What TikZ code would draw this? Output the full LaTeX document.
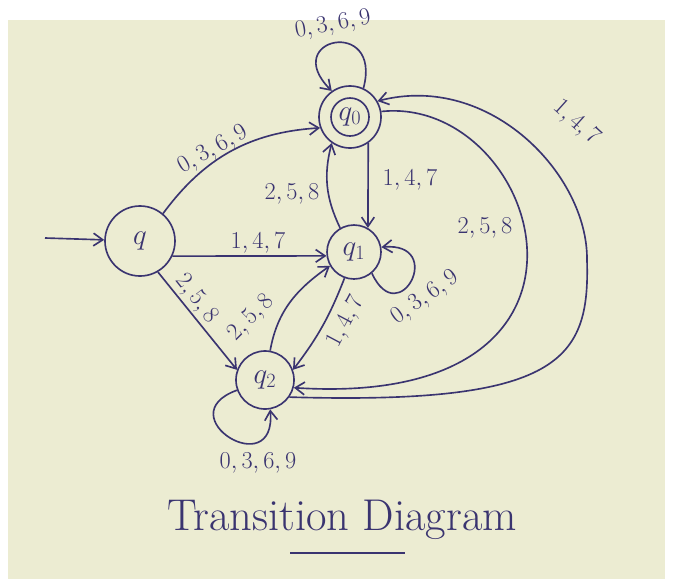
\documentclass[tikz,border=0pt]{standalone}
\usepackage{tikz}
\usetikzlibrary{positioning,arrows.meta,calc}
\definecolor{ink}{RGB}{58,52,112}
\definecolor{paper}{RGB}{236,236,210}

\begin{document}
\begin{tikzpicture}[x=0.03cm,y=-0.03cm,
  >={Straight Barb[length=2.8mm,width=3.8mm]},
  state/.style={circle,draw=ink,line width=1.4pt,inner sep=0pt,text=ink,font=\fontsize{24}{28}\selectfont},
  arc/.style={draw=ink,line width=1.4pt,->},
  lbl/.style={text=ink,inner sep=1pt,font=\fontsize{21}{25}\selectfont}]
\useasboundingbox (0,0) rectangle (673,579);
\fill[white] (0,0) rectangle (673,579);
\fill[paper] (8,20) rectangle (665,579);
% states
\node[state,minimum size=2.1cm] (q) at (140,241) {$q$};
\node[state,minimum size=1.86cm] (q0) at (350,117) {$q_0$};
\draw[ink,line width=1.4pt] (q0) circle[radius=19];
\node[state,minimum size=1.62cm] (q1) at (354,252) {$q_1$};
\node[state,minimum size=1.74cm] (q2) at (265,380) {$q_2$};
\coordinate (start) at (45,238);
\draw[arc] (start) -- (q);
% from q
\draw[arc] (q.50) to[bend left=25] (q0.200);
\node[lbl,rotate=30] (l1) at (213,150) {$0,3,6,9$};
\draw[arc] (q.-25) -- (q1.188);
\node[lbl] (l2) at (258,243) {$1,4,7$};
\draw[arc] (q.-60) -- (q2.160);
\node[lbl,rotate=-52] (l3) at (196,299) {$2,5,8$};
% between q0 and q1
\draw[arc] (q0.-55) -- (q1.60);
\node[lbl] (l4) at (410,180) {$1,4,7$};
\draw[arc] (q1.120) to[bend left=20] (q0.235);
\node[lbl] (l5) at (292,194) {$2,5,8$};
% between q1 and q2
\draw[arc] (q2.80) to[out=80,in=215] (q1.210);
\node[lbl,rotate=45] (l6) at (251,318) {$2,5,8$};
\draw[arc] (q1.-110) to[bend left=8] (q2.20);
\node[lbl,rotate=62] (l7) at (346,322) {$1,4,7$};
% self loops
\draw[arc] (q0.65) to[out=75,in=135,looseness=6] (q0.125);
\node[lbl,rotate=10] (l8) at (333,25) {$0,3,6,9$};
\draw[arc] (q1.-50) to[out=-65,in=5,looseness=6] (q1.10);
\node[lbl,rotate=35] (l9) at (425,298) {$0,3,6,9$};
\draw[arc] (q2.200) to[out=200,in=-85,looseness=5] (q2.-80);
\node[lbl] (l10) at (258,463) {$0,3,6,9$};
% long arcs round the right side
\draw[arc] (q0.10) .. controls (540,95) and (640,410) .. (q2.-15);
\node[lbl] (l11) at (485,228) {$2,5,8$};
\draw[arc] (q2.-35) .. controls (560,405) and (590,360) .. (587,260)
  .. controls (588,175) and (490,72) .. (q0.30);
\node[lbl,rotate=-42] (l12) at (576,123) {$1,4,7$};
% title
\node[text=ink,font=\fontsize{38}{44}\selectfont] (title) at (342,520) {Transition Diagram};
\draw[ink,line width=1.4pt] (290,553) -- (405,553);
\end{tikzpicture}
\end{document}
